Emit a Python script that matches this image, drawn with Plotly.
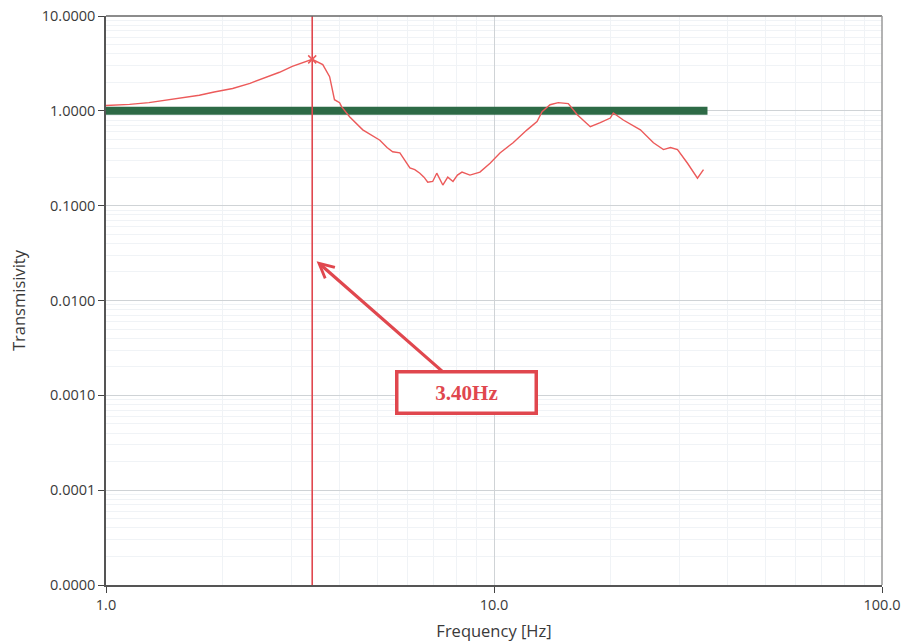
import math
import plotly.graph_objects as go

# Measured transmissivity curve (frequency in Hz)
freq_hz = [1.00, 1.15, 1.29, 1.43, 1.60, 1.74, 1.90, 2.12, 2.35, 2.59, 2.80, 3.02,
           3.25, 3.40, 3.62, 3.77, 3.88, 4.00, 4.05, 4.25, 4.59, 4.85, 5.08, 5.30,
           5.48, 5.72, 5.90, 6.07, 6.25, 6.44, 6.60, 6.75, 6.95, 7.12, 7.38, 7.60,
           7.84, 8.05, 8.27, 8.67, 9.20, 9.77, 10.36, 11.20, 12.17, 12.91, 13.30,
           13.95, 14.64, 15.54, 16.39, 17.71, 18.79, 19.94, 20.30, 21.54, 23.84,
           25.76, 27.33, 28.50, 29.71, 31.53, 33.45, 34.67]
transmissivity = [1.14, 1.17, 1.22, 1.30, 1.38, 1.46, 1.58, 1.72, 1.95, 2.25, 2.55, 2.94,
                  3.30, 3.49, 3.07, 2.29, 1.31, 1.22, 1.10, 0.86, 0.63, 0.55, 0.49, 0.41,
                  0.37, 0.36, 0.30, 0.25, 0.24, 0.22, 0.20, 0.177, 0.18, 0.22, 0.165, 0.20,
                  0.18, 0.21, 0.226, 0.21, 0.226, 0.28, 0.36, 0.46, 0.63, 0.77, 0.98,
                  1.16, 1.22, 1.19, 0.91, 0.68, 0.75, 0.84, 0.95, 0.80, 0.63,
                  0.46, 0.39, 0.41, 0.39, 0.28, 0.195, 0.24]

# Resonance peak
peak_freq = 3.40
peak_value = 3.49
peak_label = "3.40Hz"

# Unity transmissivity reference band
unity_freq = [1.0, 35.5]
unity_value = [1.0, 1.0]

# Axis ticks
y_tickvals = [10, 1, 0.1, 0.01, 0.001, 0.0001, 0.00001]
y_ticktext = ["10.0000", "1.0000", "0.1000", "0.0100", "0.0010", "0.0001", "0.0000"]
x_tickvals = [1, 10, 100]
x_ticktext = ["1.0", "10.0", "100.0"]

RED = "#e0474e"
GREEN = "#2d6a46"
FONT = "Open Sans"
TEXT = "#3a3a3a"

fig = go.Figure()

fig.add_trace(go.Scatter(
    x=unity_freq, y=unity_value, mode="lines",
    line=dict(color=GREEN, width=8), hoverinfo="skip", showlegend=False,
))

fig.add_trace(go.Scatter(
    x=freq_hz, y=transmissivity, mode="lines",
    line=dict(color="#ec5a5a", width=1.4), showlegend=False,
))

fig.add_trace(go.Scatter(
    x=[peak_freq, peak_freq], y=[1e-5, 10], mode="lines",
    line=dict(color=RED, width=1.6), hoverinfo="skip", showlegend=False,
))

fig.add_trace(go.Scatter(
    x=[peak_freq], y=[peak_value], mode="markers",
    marker=dict(symbol="x-thin", size=8, line=dict(color="#ec5a5a", width=1.5)),
    showlegend=False,
))

# Callout pointing at the resonance line
fig.add_annotation(
    x=math.log10(3.49), y=math.log10(0.026),
    ax=math.log10(8.47), ay=math.log10(0.00108),
    xref="x", yref="y", axref="x", ayref="y",
    text="<b>" + peak_label + "</b>",
    font=dict(family="Liberation Serif", size=21, color=RED),
    showarrow=True, arrowhead=5, arrowsize=0.9, arrowwidth=3.2, arrowcolor=RED,
    bgcolor="white", bordercolor=RED, borderwidth=3.5,
    width=134, height=36, standoff=0, startstandoff=0,
)

axis_common = dict(
    showline=True, linecolor="#555555", linewidth=1.5, mirror=False,
    ticks="outside", ticklen=6, tickcolor="#444444", tickwidth=1.2,
    showgrid=True, gridcolor="#cfd3d6", gridwidth=1,
    zeroline=False, automargin=False,
    tickfont=dict(family=FONT, size=14.5, color=TEXT),
    minor=dict(dtick="D1", showgrid=True, gridcolor="#f0f3f6", gridwidth=1, ticks=""),
)

fig.update_xaxes(
    type="log", range=[0, 2],
    tickvals=x_tickvals, ticktext=x_ticktext,
    title=dict(text="Frequency [Hz]", font=dict(family=FONT, size=16.5, color=TEXT), standoff=12),
    **axis_common,
)
fig.update_yaxes(
    type="log", range=[-5, 1],
    tickvals=y_tickvals, ticktext=y_ticktext,
    title=dict(text="Transmisivity", font=dict(family=FONT, size=16.5, color=TEXT), standoff=12),
    **axis_common,
)

# Top and right frame of the plotting area
fig.add_shape(type="line", xref="paper", yref="paper", x0=0, x1=1, y0=1, y1=1,
              line=dict(color="#666666", width=1.5))
fig.add_shape(type="line", xref="paper", yref="paper", x0=1, x1=1, y0=0, y1=1,
              line=dict(color="#9a9a9a", width=1.5))

fig.update_layout(
    width=902, height=644,
    margin=dict(l=106, r=20, t=16, b=59),
    paper_bgcolor="white", plot_bgcolor="white",
    showlegend=False,
)

fig.write_html("out.html")
